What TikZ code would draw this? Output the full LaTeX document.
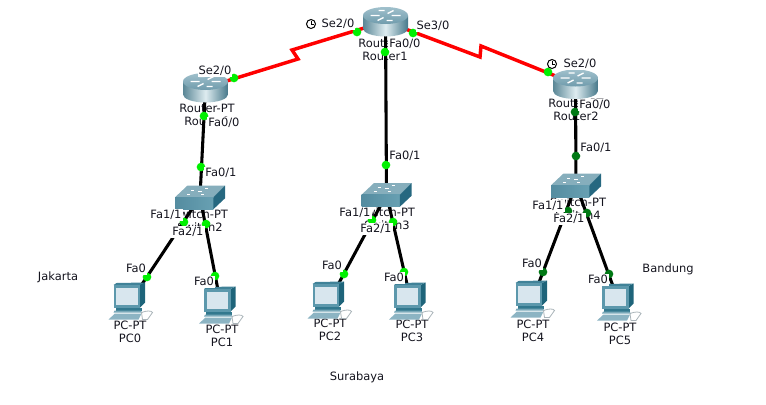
\documentclass[tikz,border=0pt]{standalone}
\usepackage{fontspec}
\setmainfont{DejaVu Sans}
\usepackage{tikz}

\tikzset{
  devname/.style={inner sep=0.75pt,font=\fontsize{8.6}{10}\selectfont,text height=6.4pt,text depth=1.6pt,color={rgb, 255:red, 20; green, 20; blue, 30}},
  portname/.style={devname,fill=white},
  place/.style={devname},
  ethernet/.style={line width=2.3pt,color=black},
  serial/.style={line width=2.6pt,color={rgb, 255:red, 255; green, 0; blue, 0}},
  upport/.style={circle,inner sep=0pt,minimum size=6.5pt,fill={rgb, 255:red, 0; green, 240; blue, 0}},
  lateport/.style={circle,inner sep=0pt,minimum size=6.5pt,fill={rgb, 255:red, 0; green, 120; blue, 20}},
  every pic/.style={yscale=-1},
  routericon/.pic={
    \path [left color={rgb, 255:red, 90; green, 135; blue, 150},right color={rgb, 255:red, 70; green, 120; blue, 138},middle color={rgb, 255:red, 222; green, 236; blue, 240}] (-22.5,-6) -- (-22.5,7) arc [start angle=180,end angle=0,x radius=22.5,y radius=8] -- (22.5,-6) -- cycle;
    \path [top color={rgb, 255:red, 160; green, 192; blue, 204},bottom color={rgb, 255:red, 112; green, 156; blue, 172}] (0,-6) ellipse [x radius=22.5,y radius=8.5];
    \draw [white,line width=1pt] (-15,-6) -- (-6,-6) (15,-6) -- (6,-6) (-8,-1) -- (-2,-4) (8,-11) -- (2,-8) (-7,-11) -- (-1,-11) (1,-1) -- (7,-1);
  },
  switchicon/.pic={
    \path [fill={rgb, 255:red, 134; green, 174; blue, 188}] (-25,0.3) -- (-12.7,-11.3) -- (25,-11.3) -- (13.3,0.3) -- cycle;
    \path [left color={rgb, 255:red, 84; green, 140; blue, 160},right color={rgb, 255:red, 104; green, 160; blue, 178}] (-25,0.3) -- (13.3,0.3) -- (13.3,12.3) -- (-25,12.3) -- cycle;
    \path [fill={rgb, 255:red, 38; green, 104; blue, 128}] (13.3,0.3) -- (25,-11.3) -- (25,1.3) -- (13.3,12.3) -- cycle;
    \draw [white,line width=0.75pt] (-9,-7) -- (-6,-7) (5,-9) -- (8,-9) (-13,-3) -- (-10,-3) (1,-3) -- (4,-3) (-2,-6) -- (2,-6);
  },
  pcicon/.pic={
    \path [fill={rgb, 255:red, 30; green, 100; blue, 122}] (9.5,-16.5) -- (14.5,-19) -- (14.5,1) -- (9.5,6) -- cycle;
    \path [fill={rgb, 255:red, 64; green, 130; blue, 152}] (-17,-16.5) -- (-14,-18.5) -- (14.5,-19) -- (9.5,-16.5) -- cycle;
    \path [fill={rgb, 255:red, 92; green, 152; blue, 172}] (-17,-16.5) -- (9.5,-16.5) -- (9.5,6) -- (-17,6) -- cycle;
    \path [fill={rgb, 255:red, 216; green, 230; blue, 238}] (-14.5,-14) -- (7,-14) -- (7,3) -- (-14.5,3) -- cycle;
    \path [fill={rgb, 255:red, 50; green, 120; blue, 142}] (-15,6) -- (11,6) -- (11,9) -- (-15,9) -- cycle;
    \path [fill={rgb, 255:red, 120; green, 168; blue, 184}] (-16,9) -- (10,9) -- (12,11) -- (-17,11) -- cycle;
    \path [fill={rgb, 255:red, 140; green, 180; blue, 195}] (-15.5,12) -- (11,12) -- (8,18) -- (-22,18) -- cycle;
    \draw [color={rgb, 255:red, 170; green, 180; blue, 185},line width=0.6pt] (11,11) .. controls (16,9) and (21,9) .. (22,11) -- (17,18) -- (12,18) -- cycle;
  }
}

\begin{document}
\begin{tikzpicture}[x=0.75pt,y=0.75pt,yscale=-1,xscale=1]
\useasboundingbox (0,0) rectangle (766,404);

%Device centres
\coordinate (router0) at (205.5,87.5);
\coordinate (router1) at (385.5,21.5);
\coordinate (router2) at (575.5,84);
\coordinate (switch2) at (200,197);
\coordinate (switch3) at (386.5,194.5);
\coordinate (switch4) at (576,185);
\coordinate (pc0) at (130.5,301.5);
\coordinate (pc1) at (221,305.5);
\coordinate (pc2) at (329.5,300.5);
\coordinate (pc3) at (411,301.5);
\coordinate (pc4) at (532.5,299.5);
\coordinate (pc5) at (619,302.5);

%Serial kinks
\coordinate (bendA) at (298,59);
\coordinate (bendB) at (292,50);
\coordinate (bendC) at (480,57);
\coordinate (bendD) at (481,46);

% Device Names
\draw (207,109) node [devname] (nameR0) {Router-PT};
\draw (207,122) node [devname] (nameR0b) {Router0};
\draw (386,44) node [devname] (nameR1) {Router-PT};
\draw (385,57) node [devname] (nameR1b) {Router1};
\draw (576,104) node [devname] (nameR2) {Router-PT};
\draw (576,117) node [devname] (nameR2b) {Router2};
\draw (200,215) node [devname] (nameS2) {Switch-PT};
\draw (200,228) node [devname] (nameS2b) {Switch2};
\draw (387,213) node [devname] (nameS3) {Switch-PT};
\draw (387,226) node [devname] (nameS3b) {Switch3};
\draw (578,203) node [devname] (nameS4) {Switch-PT};
\draw (578,216) node [devname] (nameS4b) {Switch4};
\draw (130,326) node [devname] (nameP0) {PC-PT};
\draw (130,339) node [devname] (nameP0b) {PC0};
\draw (222,330) node [devname] (nameP1) {PC-PT};
\draw (222,343) node [devname] (nameP1b) {PC1};
\draw (330,324) node [devname] (nameP2) {PC-PT};
\draw (330,337) node [devname] (nameP2b) {PC2};
\draw (412,325) node [devname] (nameP3) {PC-PT};
\draw (412,338) node [devname] (nameP3b) {PC3};
\draw (533,325) node [devname] (nameP4) {PC-PT};
\draw (533,338) node [devname] (nameP4b) {PC4};
\draw (620,328) node [devname] (nameP5) {PC-PT};
\draw (620,341) node [devname] (nameP5b) {PC5};

%Straight Lines
\draw [serial] (router0) -- (bendA) -- (bendB) -- (router1);
\draw [serial] (router1) -- (bendC) -- (bendD) -- (router2);
\draw [ethernet] (router0) -- (switch2);
\draw [ethernet] (router1) -- (switch3);
\draw [ethernet] (router2) -- (switch4);
\draw [ethernet] (switch2) -- (pc0);
\draw [ethernet] (switch2) -- (pc1);
\draw [ethernet] (switch3) -- (pc2);
\draw [ethernet] (switch3) -- (pc3);
\draw [ethernet] (switch4) -- (pc4);
\draw [ethernet] (switch4) -- (pc5);

%Icons
\path (router0) pic {routericon};
\path (router1) pic {routericon};
\path (router2) pic {routericon};
\path (switch2) pic {switchicon};
\path (switch3) pic {switchicon};
\path (switch4) pic {switchicon};
\path (pc0) pic {pcicon};
\path (pc1) pic {pcicon};
\path (pc2) pic {pcicon};
\path (pc3) pic {pcicon};
\path (pc4) pic {pcicon};
\path (pc5) pic {pcicon};

%Port Lights
\draw (234,78) node [upport] (dotA) {};
\draw (357,32) node [upport] (dotB) {};
\draw (413,33) node [upport] (dotC) {};
\draw (548,72) node [upport] (dotD) {};
\draw (204,116) node [upport] (dotE) {};
\draw (201,167) node [upport] (dotF) {};
\draw (385,52) node [upport] (dotG) {};
\draw (386,165) node [upport] (dotH) {};
\draw (575,112) node [lateport] (dotI) {};
\draw (576,156) node [lateport] (dotJ) {};
\draw (184,222) node [upport] (dotK) {};
\draw (147,277) node [upport] (dotL) {};
\draw (206,224) node [upport] (dotM) {};
\draw (215,276) node [upport] (dotN) {};
\draw (372,220) node [upport] (dotO) {};
\draw (344,274) node [upport] (dotP) {};
\draw (393,222) node [upport] (dotQ) {};
\draw (404,272) node [upport] (dotR) {};
\draw (568,211) node [lateport] (dotS) {};
\draw (543,272) node [lateport] (dotT) {};
\draw (587,213) node [lateport] (dotU) {};
\draw (609,274) node [lateport] (dotV) {};

% Port Names
\draw (215,71) node [portname] (portA) {Se2/0};
\draw (224,123) node [portname] (portB) {Fa0/0};
\draw (221,173) node [portname] (portC) {Fa0/1};
\draw (338,24) node [portname] (portD) {Se2/0};
\draw (433,26) node [portname] (portE) {Se3/0};
\draw (405,44) node [portname] (portF) {Fa0/0};
\draw (405,156) node [portname] (portG) {Fa0/1};
\draw (580,64) node [portname] (portH) {Se2/0};
\draw (595,105) node [portname] (portI) {Fa0/0};
\draw (596,148) node [portname] (portJ) {Fa0/1};
\draw (166,215) node [portname] (portK) {Fa1/1};
\draw (188,232) node [portname] (portL) {Fa2/1};
\draw (136,269) node [portname] (portM) {Fa0};
\draw (204,282) node [portname] (portN) {Fa0};
\draw (355,213) node [portname] (portO) {Fa1/1};
\draw (376,229) node [portname] (portP) {Fa2/1};
\draw (332,266) node [portname] (portQ) {Fa0};
\draw (394,278) node [portname] (portR) {Fa0};
\draw (548,206) node [portname] (portS) {Fa1/1};
\draw (569,219) node [portname] (portT) {Fa2/1};
\draw (532,264) node [portname] (portU) {Fa0};
\draw (598,280) node [portname] (portV) {Fa0};

%Clock marks
\draw [line width=0.75pt] (311,24) circle [radius=4.5];
\draw [line width=0.75pt] (311,21) -- (311,24) -- (314,24);
\draw [line width=0.75pt] (552,64) circle [radius=4.5];
\draw [line width=0.75pt] (552,61) -- (552,64) -- (555,64);

% Text Node
\draw (58,277) node [place] (jakarta) {Jakarta};
\draw (357,377) node [place] (surabaya) {Surabaya};
\draw (668,269) node [place] (bandung) {Bandung};

\end{tikzpicture}
\end{document}
